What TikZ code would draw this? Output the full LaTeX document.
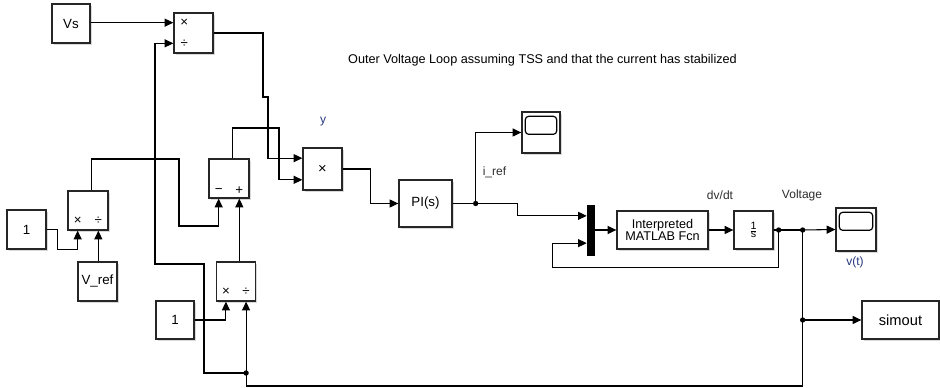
\documentclass[tikz,border=0pt]{standalone}
\usepackage{fontspec}
\setmainfont{Liberation Sans}
\usetikzlibrary{
    arrows.meta,
    calc,
    shadows
}
\definecolor{namecol}{RGB}{35,55,125}
\definecolor{labcol}{RGB}{45,45,45}
\tikzset{
    blk/.style 2 args={draw=black!85, line width=1pt, fill=white,
        minimum width=#1*0.75pt, minimum height=#2*0.75pt, inner sep=0pt,
        font=\fontsize{10}{11}\selectfont,
        drop shadow={shadow xshift=1.2pt, shadow yshift=-1.2pt, opacity=0.3}},
    muxbar/.style={draw=black, fill=black, minimum width=5.25pt,
        minimum height=37.5pt, inner sep=0pt},
    sig/.style={-{Triangle[length=6.5pt, width=6pt]}, line width=0.8pt},
    wire/.style={line width=0.8pt},
    portlbl/.style={font=\fontsize{10}{10}\selectfont, inner sep=0pt},
    siglbl/.style={font=\fontsize{9}{10}\selectfont, text=labcol},
    blkname/.style={font=\fontsize{9}{10}\selectfont, text=namecol}
}

\begin{document}
\begin{tikzpicture}[x=0.75pt, y=-0.75pt]
    \useasboundingbox (0,0) rectangle (940,388);
    % reference side
    \node[blk={38}{39}] (vs) at (71,23.5) {Vs};
    \node[blk={39}{40}] (div1) at (193.5,33) {};
    \node[blk={40}{39}] (div3) at (88,210.5) {};
    \node[blk={39}{39}] (one1) at (26.5,229.5) {1};
    \node[blk={39}{39}] (vref) at (97.5,281.5) {V\_ref};
    \node[blk={40}{39}] (sum) at (229,178.5) {};
    \node[blk={39}{39}] (div2) at (236,281.5) {};
    \node[blk={38}{38}] (one2) at (175,320) {1};
    % forward path
    \node[blk={39}{42}, font=\fontsize{11}{11}\selectfont]
        (mult) at (322.5,169) {×};
    \node[blk={53}{47}] (pi) at (425.5,203.5) {PI(s)};
    \node[blk={38}{41}] (scope1) at (541,132.5) {};
    \node[muxbar] (mux) at (590.5,230) {};
    \node[blk={91}{38}, align=center, font=\fontsize{9.5}{8.5}\selectfont]
        (interp) at (662.5,230) {Interpreted\\MATLAB Fcn};
    \node[blk={39}{38}, font=\fontsize{8}{9}\selectfont]
        (integ) at (753.5,230) {$\frac{\mbox{1}}{\mbox{s}}$};
    \node[blk={40}{43}] (scope2) at (856,229.5) {};
    \node[blk={77}{38}, font=\fontsize{11}{13}\selectfont]
        (simout) at (900.5,320) {simout};

    % ports
    \foreach \b in {div3,sum,div2}{
        \coordinate (\b-a) at ($(\b.south west)!0.25!(\b.south east)$);
        \coordinate (\b-b) at ($(\b.south west)!0.75!(\b.south east)$);
        \coordinate (\b-o) at ($(\b.north west)!0.575!(\b.north east)$);
    }
    \foreach \b in {div1,mult}{
        \coordinate (\b-a) at ($(\b.north west)!0.25!(\b.south west)$);
        \coordinate (\b-b) at ($(\b.north west)!0.75!(\b.south west)$);
    }
    \coordinate (mux-a) at ($(mux.north west)!0.22!(mux.south west)$);
    \coordinate (mux-b) at ($(mux.north west)!0.76!(mux.south west)$);
    \foreach \b in {div3,div2}{
        \node[portlbl] (\b-la) at ($(\b-a)+(0,-10)$) {×};
        \node[portlbl] (\b-lb) at ($(\b-b)+(0,-10)$) {÷};
    }
    \node[portlbl] (div1-la) at ($(div1-a)+(11,0)$) {×};
    \node[portlbl] (div1-lb) at ($(div1-b)+(11,0)$) {÷};
    \node[portlbl] (sum-la) at ($(sum-a)+(0,-8)$) {−};
    \node[portlbl] (sum-lb) at ($(sum-b)+(0,-8)$) {+};
    \foreach \s in {scope1,scope2}
        \draw[line width=0.9pt, rounded corners=2.5pt]
            ($(\s.north west)+(4,5)$) rectangle ($(\s.north east)+(-4,23)$);

    % junctions
    \coordinate (j1) at ($(pi.east)+(23,0)$);
    \coordinate (j0) at ($(integ.east)+(5,0)$);
    \coordinate (j2) at ($(integ.east)+(29,0)$);
    \coordinate (j3) at (j2 |- simout.west);
    \coordinate (j4) at (div2-b |- 0,373);

    % signals
    \draw[sig] (vs.east |- div1-a) -- (div1-a);
    \draw[sig] (div1.east) -| (263,97) -- (268,97) |- (mult-a);
    \draw[sig] (sum-o) |- (279,128) |- (mult-b);
    \draw[sig] (one1.east) -- ++(11,0) |- ($(div3-a)+(0,19)$) -- (div3-a);
    \draw[sig] (div3-b |- vref.north) -- (div3-b);
    \draw[sig] (div3-o) -- (div3-o |- 0,159) -| (179,226) -| (sum-a);
    \draw[sig] (sum-b |- div2-o) -- (sum-b);
    \draw[sig] (one2.east) -| (div2-a);
    \draw[sig] (mult.east) -- ++(28,0) |- (pi.west);
    \draw[wire] (pi.east) -- (j1);
    \draw[sig] (j1) |- (scope1.west);
    \draw[sig] (j1) -| ($(mux-a)+(-69,0)$) -- (mux-a);
    \draw[sig] (mux.east) -- (interp.west);
    \draw[sig] (interp.east) -- (integ.west);
    \draw[wire] (integ.east) -- (j2);
    \draw[sig] (j2) -- (scope2.west);
    \draw[sig] (j0) |- ($(mux-b)+(-34,24)$) |- (mux-b);
    \draw[wire] (j2) -- (j3);
    \draw[sig] (j3) -- (simout.west);
    \draw[sig] (j3) |- (div2-b |- 0,386) -- (div2-b);
    \draw[sig] (j4) -| (204,264) -- (155,264) |- (div1-b);
    \foreach \j in {j0,j1,j2,j3,j4}
        \fill (\j) circle[radius=2pt];

    % labels
    \node[siglbl, text=black, font=\fontsize{9.5}{10}\selectfont] (ttl)
        at (542.5,60)
        {Outer Voltage Loop assuming TSS and that the current has stabilized};
    \node[blkname] (ylbl) at (323,122) {y};
    \node[siglbl] (irefl) at (494.5,172) {i\_ref};
    \node[siglbl] (dvdtl) at (720,195) {dv/dt};
    \node[siglbl] (voltl) at (802,195) {Voltage};
    \node[blkname] (vtl) at (855,262) {v(t)};
\end{tikzpicture}
\end{document}
